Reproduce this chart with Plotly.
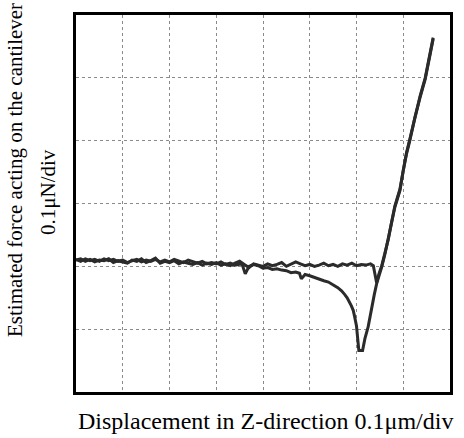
import plotly.graph_objects as go

# Approach curve (flat baseline, then contact line up)
approach_x = [0.00, 0.10, 0.20, 0.30, 0.40, 0.50, 0.60, 0.70, 0.80, 0.90,
              1.00, 1.10, 1.20, 1.30, 1.40, 1.50, 1.60, 1.70, 1.80, 1.90,
              2.00, 2.10, 2.20, 2.30, 2.40, 2.50, 2.60, 2.70, 2.80, 2.90,
              3.00, 3.10, 3.20, 3.30, 3.40, 3.50, 3.60, 3.70, 3.80, 3.90,
              4.00, 4.10, 4.20, 4.30, 4.40, 4.50, 4.60, 4.70, 4.80, 4.90,
              5.00, 5.10, 5.20, 5.30, 5.40, 5.50, 5.60, 5.70, 5.80, 5.90,
              6.00, 6.10, 6.20, 6.30, 6.36, 6.40, 6.43, 6.48, 6.54, 6.61,
              6.68, 6.75, 6.82, 6.93, 7.00, 7.07, 7.14, 7.25, 7.36, 7.47,
              7.57, 7.64]
approach_y = [2.10, 2.12, 2.08, 2.11, 2.07, 2.10, 2.09, 2.12, 2.06, 2.09,
              2.07, 2.05, 2.10, 2.08, 2.12, 2.06, 2.09, 2.13, 2.05, 2.08,
              2.06, 2.09, 2.04, 2.07, 2.05, 2.03, 2.06, 2.02, 2.05, 2.03,
              2.06, 2.02, 2.04, 2.01, 2.05, 2.08, 2.03, 1.98, 2.04, 2.02,
              2.00, 2.04, 2.01, 2.03, 2.06, 2.00, 2.03, 2.07, 2.04, 2.01,
              2.03, 2.00, 2.02, 2.05, 2.01, 2.03, 2.00, 2.04, 2.02, 2.05,
              2.01, 2.03, 2.02, 2.04, 2.01, 1.86, 1.74, 1.88, 2.01, 2.22,
              2.43, 2.70, 2.96, 3.23, 3.55, 3.81, 4.02, 4.39, 4.71, 5.00,
              5.35, 5.64]

# Retraction curve (down the contact line, adhesion dip, back to baseline)
retract_x = [7.64, 7.57, 7.47, 7.36, 7.25, 7.14, 7.07, 7.00, 6.93, 6.82,
             6.75, 6.68, 6.61, 6.54, 6.48, 6.43, 6.38, 6.32, 6.25, 6.18,
             6.14, 6.13, 6.05, 6.03, 6.00, 5.96, 5.93, 5.89, 5.85, 5.80,
             5.75, 5.68, 5.60, 5.50, 5.40, 5.30, 5.20, 5.10, 5.00, 4.90,
             4.82, 4.78, 4.70, 4.60, 4.50, 4.40, 4.30, 4.20, 4.10, 4.00,
             3.90, 3.80, 3.70, 3.62, 3.55, 3.40, 3.30, 3.20, 3.10, 3.00,
             2.90, 2.80, 2.70, 2.60, 2.50, 2.40, 2.30, 2.20, 2.10, 2.00,
             1.90, 1.80, 1.70, 1.60, 1.50, 1.40, 1.30, 1.20, 1.10, 1.00,
             0.90, 0.80, 0.70, 0.60, 0.50, 0.40, 0.30, 0.20, 0.10, 0.00]
retract_y = [5.62, 5.33, 4.98, 4.69, 4.37, 4.00, 3.79, 3.53, 3.21, 2.94,
             2.68, 2.41, 2.20, 1.99, 1.86, 1.72, 1.55, 1.31, 1.04, 0.85,
             0.72, 0.66, 0.66, 0.82, 1.05, 1.20, 1.30, 1.37, 1.43, 1.50,
             1.55, 1.61, 1.66, 1.71, 1.75, 1.77, 1.80, 1.83, 1.85, 1.87,
             1.80, 1.89, 1.91, 1.90, 1.93, 1.94, 1.96, 1.95, 1.98, 1.97,
             2.01, 2.03, 2.00, 1.88, 2.04, 2.02, 2.05, 2.03, 2.07, 2.04,
             2.06, 2.04, 2.08, 2.05, 2.07, 2.10, 2.06, 2.08, 2.11, 2.07,
             2.10, 2.07, 2.11, 2.08, 2.10, 2.07, 2.11, 2.09, 2.06, 2.10,
             2.08, 2.11, 2.09, 2.12, 2.08, 2.11, 2.09, 2.12, 2.08, 2.11]

x_title = "Displacement in Z-direction 0.1\u03bcm/div"
y_title_1 = "Estimated force acting on the cantilever"
y_title_2 = "0.1\u03bcN/div"

line_color = "#2b2b2b"
fig = go.Figure()
fig.add_trace(go.Scatter(x=approach_x, y=approach_y, mode="lines",
                         line=dict(color=line_color, width=3)))
fig.add_trace(go.Scatter(x=retract_x, y=retract_y, mode="lines",
                         line=dict(color=line_color, width=3)))

L, R, T, B = 76, 14, 15, 46
W, H = 464, 438
pw, ph = W - L - R, H - T - B

axis_common = dict(showgrid=True, gridcolor="#8a8a8a", griddash="dot", gridwidth=1,
                   showticklabels=False, ticks="", zeroline=False,
                   showline=True, linecolor="black", linewidth=2.5, mirror=True)
fig.update_xaxes(range=[0, 8], dtick=1, **axis_common)
fig.update_yaxes(range=[0, 6], dtick=1, **axis_common)

font_fam = "Liberation Serif, Times New Roman, serif"
fig.update_layout(
    width=W, height=H, margin=dict(l=L, r=R, t=T, b=B),
    paper_bgcolor="white", plot_bgcolor="white", showlegend=False,
    annotations=[
        dict(text=x_title, xref="paper", yref="paper",
             x=(265 - L) / pw, y=(H - B - 421) / ph, xanchor="center", yanchor="middle",
             showarrow=False, font=dict(family=font_fam, size=24, color="black")),
        dict(text=y_title_1, xref="paper", yref="paper", textangle=-90,
             x=(15 - L) / pw, y=(H - B - 170) / ph, xanchor="center", yanchor="middle",
             showarrow=False, font=dict(family=font_fam, size=21, color="black")),
        dict(text=y_title_2, xref="paper", yref="paper", textangle=-90,
             x=(48 - L) / pw, y=(H - B - 192) / ph, xanchor="center", yanchor="middle",
             showarrow=False, font=dict(family=font_fam, size=21, color="black")),
    ],
)
fig.write_html("out.html")
